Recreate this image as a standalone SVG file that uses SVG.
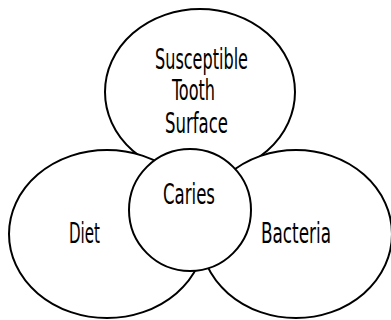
<svg xmlns="http://www.w3.org/2000/svg" width="391" height="320" viewBox="0 0 391 320">
<style>
.shape{fill:#fff;stroke:#000;stroke-width:2}
.lbl{font-family:"Liberation Sans Narrow","DejaVu Sans Condensed","Liberation Sans",sans-serif;font-size:28px;fill:#000}
</style>
<rect width="391" height="320" fill="#fff"/>
<g id="connectors"></g>
<g id="node-surface">
<ellipse class="shape" cx="200" cy="92" rx="95" ry="83"/>
<text class="lbl" x="155" y="69" textLength="93" lengthAdjust="spacingAndGlyphs">Susceptible</text>
<text class="lbl" x="172" y="100" textLength="43" lengthAdjust="spacingAndGlyphs">Tooth</text>
<text class="lbl" x="165" y="133" textLength="63" lengthAdjust="spacingAndGlyphs">Surface</text>
</g>
<g id="node-diet">
<ellipse class="shape" cx="107" cy="234" rx="98" ry="84"/>
<text class="lbl" x="69" y="243" textLength="31" lengthAdjust="spacingAndGlyphs">Diet</text>
</g>
<g id="node-bacteria">
<ellipse class="shape" cx="296" cy="234" rx="96" ry="84"/>
<text class="lbl" x="261" y="243" textLength="70" lengthAdjust="spacingAndGlyphs">Bacteria</text>
</g>
<g id="node-caries">
<circle class="shape" cx="190" cy="210" r="61"/>
<text class="lbl" x="163" y="204" textLength="52" lengthAdjust="spacingAndGlyphs">Caries</text>
</g>
</svg>
